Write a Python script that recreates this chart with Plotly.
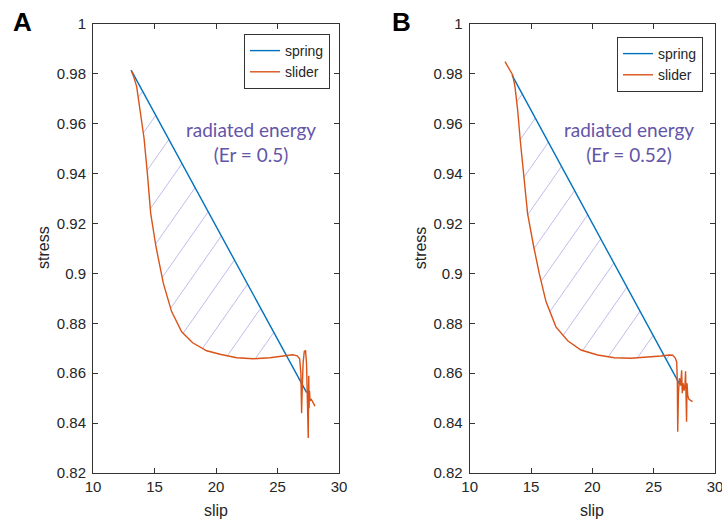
import numpy as np
import plotly.graph_objects as go

# ---------------- data ----------------
spring_a_x = [13.10, 27.37]
spring_a_y = [0.9815, 0.8522]
slider_a_x = [13.10, 13.30, 13.55, 13.82, 14.15, 14.42, 14.69, 15.12, 15.72, 16.39,
              17.21, 18.10, 19.24, 20.33, 21.68, 23.03, 24.39, 25.47, 26.23, 26.60,
              26.80, 26.90, 26.96, 27.00, 27.08, 27.18, 27.28, 27.36, 27.42, 27.47,
              27.50, 27.52, 27.54, 27.57, 27.60, 27.65, 27.75, 27.90, 28.05]
slider_a_y = [0.9815, 0.9790, 0.9749, 0.9655, 0.9542, 0.9401, 0.9241, 0.9107, 0.8960, 0.8847,
              0.8766, 0.8722, 0.8690, 0.8676, 0.8662, 0.8658, 0.8662, 0.8669, 0.8674, 0.8670,
              0.8658, 0.8600, 0.8440, 0.8520, 0.8640, 0.8688, 0.8690, 0.8640, 0.8500, 0.8380,
              0.8340, 0.8480, 0.8590, 0.8460, 0.8530, 0.8490, 0.8495, 0.8480, 0.8468]

spring_b_x = [13.45, 27.10]
spring_b_y = [0.9795, 0.8557]
slider_b_x = [12.88, 13.20, 13.50, 13.69, 13.91, 14.12, 14.40, 14.72, 15.22, 15.67,
              16.22, 17.03, 17.99, 19.07, 20.43, 21.79, 23.14, 24.51, 25.59, 26.27,
              26.55, 26.75, 26.88, 26.93, 26.96, 27.02, 27.10, 27.20, 27.28, 27.33,
              27.40, 27.48, 27.55, 27.60, 27.65, 27.68, 27.72, 27.78, 27.88, 28.00, 28.17]
slider_b_y = [0.9849, 0.9822, 0.9796, 0.9749, 0.9655, 0.9535, 0.9388, 0.9240, 0.9107, 0.9000,
              0.8887, 0.8786, 0.8730, 0.8693, 0.8673, 0.8662, 0.8660, 0.8664, 0.8669, 0.8673,
              0.8672, 0.8662, 0.8645, 0.8560, 0.8365, 0.8520, 0.8580, 0.8550, 0.8612, 0.8520,
              0.8560, 0.8530, 0.8550, 0.8608, 0.8450, 0.8405, 0.8560, 0.8510, 0.8495, 0.8490, 0.8486]

energy_a = "0.5"
energy_b = "0.52"
panel_labels = ["A", "B"]
series_names = ["spring", "slider"]
x_ticks = [10, 15, 20, 25, 30]
y_ticks = [0.82, 0.84, 0.86, 0.88, 0.90, 0.92, 0.94, 0.96, 0.98, 1.00]
y_tick_text = ["0.82", "0.84", "0.86", "0.88", "0.9", "0.92", "0.94", "0.96", "0.98", "1"]
x_range = [10, 30]
y_range = [0.82, 1.0]

# ---------------- style ----------------
W, H = 722, 523
BLUE = "#0072BD"
ORANGE = "#D95319"
PURPLE = "#6455a8"
HATCH = "#c2bcec"
AX = "#333333"
TXT = "#262626"
FONT = "Liberation Sans, Arial, sans-serif"

dom_a = [93 / W, 339 / W]
dom_b = [469.7 / W, 715 / W]
dom_y = [1 - 473 / H, 1 - 24 / H]


def px_scales(dom):
    ppx = (dom[1] - dom[0]) * W / (x_range[1] - x_range[0])
    ppy = (dom_y[1] - dom_y[0]) * H / (y_range[1] - y_range[0])
    return ppx, ppy


def hatch_lines(sx, sy, spx, spy, dom, angle_deg=55, spacing_px=30, anchor_x=18.3):
    sx = np.asarray(sx, float)
    sy = np.asarray(sy, float)

    def spring(x):
        return spy[0] + (np.asarray(x) - spx[0]) * (spy[1] - spy[0]) / (spx[1] - spx[0])

    above = sy > spring(sx)
    i0 = int(np.argmax((sx > 20) & above))
    i1 = i0 + int(np.argmax(~above[i0:]))
    d0 = sy[i1 - 1] - spring(sx[i1 - 1])
    d1 = sy[i1] - spring(sx[i1])
    x_end = sx[i1 - 1] + (sx[i1] - sx[i1 - 1]) * d0 / (d0 - d1)
    xs = np.linspace(spx[0], x_end, 6000)
    lo = np.interp(xs, sx[:i1 + 1], sy[:i1 + 1])
    hi = spring(xs)
    ppx, ppy = px_scales(dom)
    m = np.tan(np.radians(angle_deg)) * ppx / ppy
    dc = m * spacing_px / ppx
    c_anchor = float(spring(anchor_x)) - m * anchor_x
    cs_all = np.concatenate([lo, hi]) - m * np.concatenate([xs, xs])
    n_lo = int(np.floor((cs_all.min() - c_anchor) / dc)) - 1
    n_hi = int(np.ceil((cs_all.max() - c_anchor) / dc)) + 1
    hx, hy = [], []
    for n in range(n_lo, n_hi + 1):
        c = c_anchor + n * dc
        yl = m * xs + c
        inside = (yl - lo) * (yl - hi) < 0
        if not inside.any():
            continue
        idx = np.flatnonzero(inside)
        breaks = np.flatnonzero(np.diff(idx) > 1)
        starts = np.concatenate([[idx[0]], idx[breaks + 1]])
        ends = np.concatenate([idx[breaks], [idx[-1]]])
        for a, b in zip(starts, ends):
            hx += [xs[a], xs[b], None]
            hy += [yl[a], yl[b], None]
    return hx, hy


fig = go.Figure()

panels = [
    dict(sx=slider_a_x, sy=slider_a_y, spx=spring_a_x, spy=spring_a_y, dom=dom_a,
         xa="x", ya="y", leg="legend", anchor=18.3, er=energy_a),
    dict(sx=slider_b_x, sy=slider_b_y, spx=spring_b_x, spy=spring_b_y, dom=dom_b,
         xa="x2", ya="y2", leg="legend2", anchor=19.62, er=energy_b),
]

for p in panels:
    hx, hy = hatch_lines(p["sx"], p["sy"], p["spx"], p["spy"], p["dom"], anchor_x=p["anchor"])
    fig.add_trace(go.Scatter(x=hx, y=hy, mode="lines", line=dict(color=HATCH, width=1),
                             showlegend=False, hoverinfo="skip", xaxis=p["xa"], yaxis=p["ya"]))
    fig.add_trace(go.Scatter(x=p["spx"], y=p["spy"], mode="lines", name=series_names[0],
                             line=dict(color=BLUE, width=1.4), xaxis=p["xa"], yaxis=p["ya"],
                             legend=p["leg"]))
    fig.add_trace(go.Scatter(x=p["sx"], y=p["sy"], mode="lines", name=series_names[1],
                             line=dict(color=ORANGE, width=1.4), xaxis=p["xa"], yaxis=p["ya"],
                             legend=p["leg"]))

axis_common = dict(showline=True, linecolor=AX, linewidth=1, mirror="ticks", ticks="inside",
                   ticklen=5, tickwidth=1, tickcolor=AX, showgrid=False, zeroline=False,
                   tickfont=dict(family=FONT, size=15, color=TXT), automargin=False,
                   fixedrange=True, ticklabeloverflow="allow")

fig.update_layout(
    width=W, height=H,
    margin=dict(l=0, r=0, t=0, b=0),
    paper_bgcolor="white", plot_bgcolor="white",
    font=dict(family=FONT, color=TXT),
    xaxis=dict(domain=dom_a, range=x_range, tickvals=x_ticks, anchor="y", **axis_common),
    yaxis=dict(domain=dom_y, range=y_range, tickvals=y_ticks, ticktext=y_tick_text, anchor="x",
               ticklabelstandoff=3, **axis_common),
    xaxis2=dict(domain=dom_b, range=x_range, tickvals=x_ticks, anchor="y2", **axis_common),
    yaxis2=dict(domain=dom_y, range=y_range, tickvals=y_ticks, ticktext=y_tick_text, anchor="x2",
                ticklabelstandoff=3, **axis_common),
    legend=dict(x=330 / W, y=1 - 34 / H, xanchor="right", yanchor="top", bgcolor="white",
                bordercolor=AX, borderwidth=1, font=dict(family=FONT, size=14, color=TXT)),
    legend2=dict(x=703 / W, y=1 - 37 / H, xanchor="right", yanchor="top", bgcolor="white",
                 bordercolor=AX, borderwidth=1, font=dict(family=FONT, size=14, color=TXT)),
    showlegend=True,
)

annotations = []
centers = [(216 / W, 43 / W, 22.7 / W, 251 / W), (592.4 / W, 420.3 / W, 401.3 / W, 628.7 / W)]
for i, p in enumerate(panels):
    cx, sx_, lx, ex = centers[i]
    annotations.append(dict(text="slip", x=cx, y=1 - 510 / H, xref="paper", yref="paper",
                            showarrow=False, font=dict(family=FONT, size=16, color=TXT),
                            xanchor="center", yanchor="middle"))
    annotations.append(dict(text="stress", x=sx_, y=1 - 248 / H, xref="paper", yref="paper",
                            showarrow=False, textangle=-90,
                            font=dict(family=FONT, size=16, color=TXT),
                            xanchor="center", yanchor="middle"))
    annotations.append(dict(text="<b>" + panel_labels[i] + "</b>", x=lx, y=1 - 22.5 / H,
                            xref="paper", yref="paper", showarrow=False,
                            font=dict(family=FONT, size=26, color="black"),
                            xanchor="center", yanchor="middle"))
    annotations.append(dict(text="radiated energy<br>(Er = " + p["er"] + ")", x=ex,
                            y=1 - 141.5 / H, xref="paper", yref="paper", showarrow=False,
                            font=dict(family="Lato, sans-serif", size=19, color=PURPLE),
                            xanchor="center", yanchor="middle", align="center"))
fig.update_layout(annotations=annotations)

fig.write_html("out.html")
